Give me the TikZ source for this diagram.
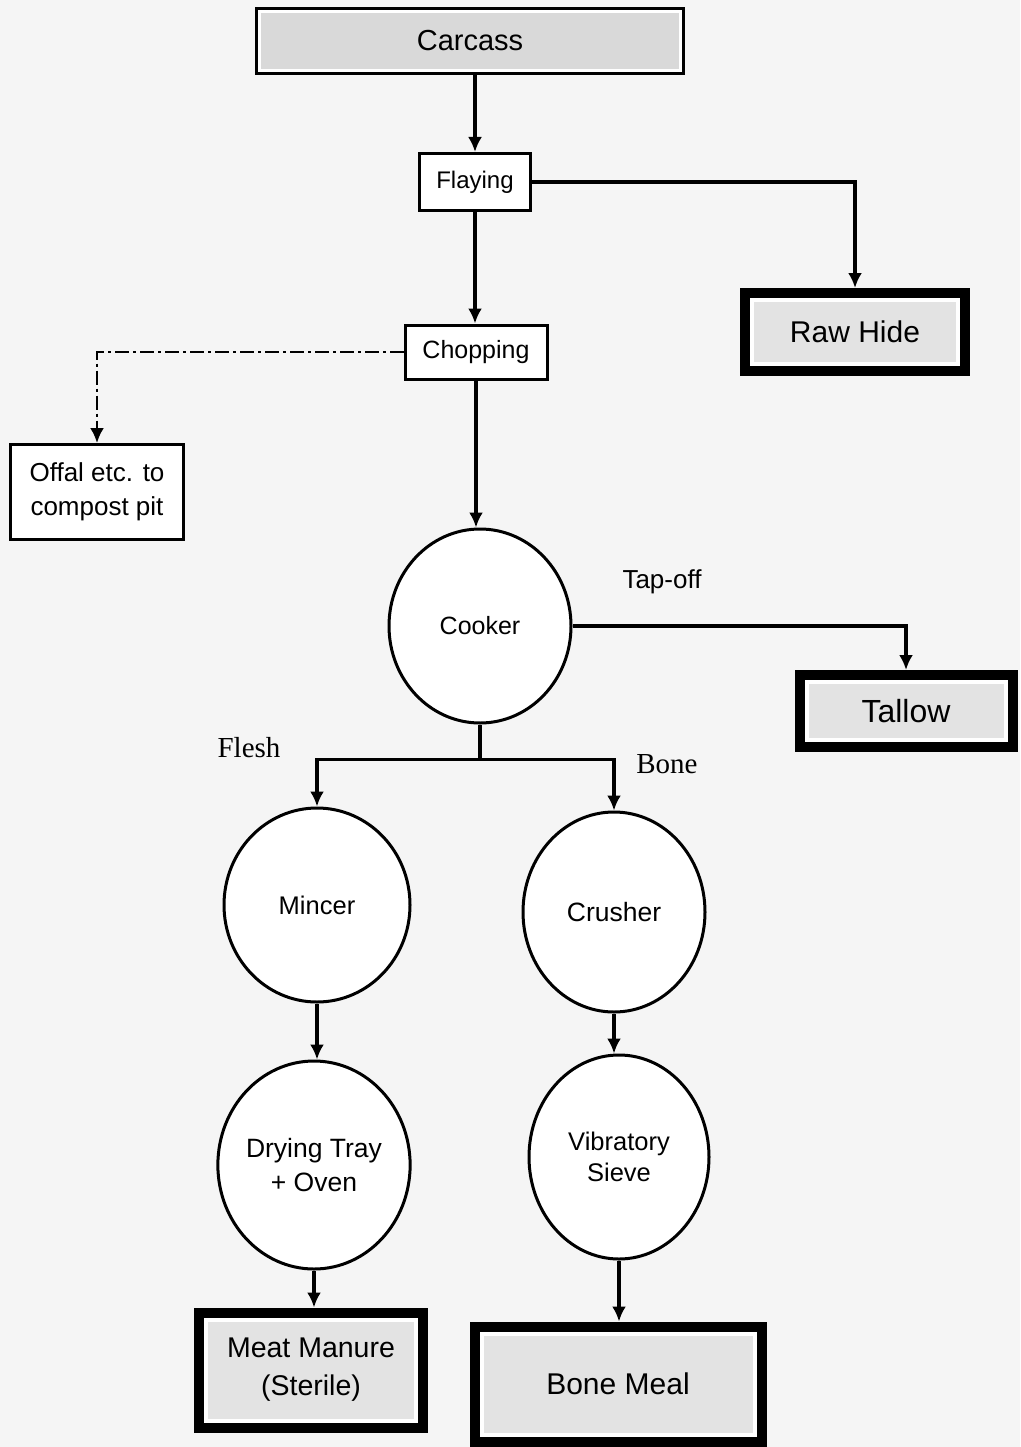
\documentclass[tikz,border=0pt]{standalone}
\usepackage{fontspec}
\setmainfont{Liberation Sans}
\newfontfamily\labelserif{Liberation Serif}
\usetikzlibrary{arrows.meta,shapes.geometric,positioning,calc}
\tikzset{
    smallbox/.style={draw,line width=3pt,fill=white,inner sep=0pt,align=center},
    heavybox/.style={draw=white,line width=4pt,fill=gray!22,inner sep=0pt,outer sep=12pt,align=center,
        preaction={draw=black,line width=24pt}},
    headbox/.style={draw=white,line width=3pt,fill=gray!30,inner sep=0pt,outer sep=4.5pt,align=center,
        preaction={draw=black,line width=9pt}},
    vessel/.style={draw,ellipse,line width=3pt,fill=white,inner sep=0pt,align=center},
    flow/.style={-{Latex[length=15pt,width=14pt]},line width=3.5pt},
    waste/.style={flow,line width=2.5pt,dash pattern=on 14pt off 4pt on 3pt off 4pt},
    branch/.style={font=\labelserif\fontsize{29pt}{33pt}\selectfont},
}

\begin{document}
\begin{tikzpicture}[x=1pt,y=-1pt, every node/.style={font=\fontsize{25pt}{30pt}\selectfont}]
% Page
                \fill[gray!8] (0,0) rectangle (1020,1447);
                \useasboundingbox (0,0) rectangle (1020,1447);
% --- Carcass, flaying, chopping ---
                \node[headbox, minimum width=421pt, minimum height=59pt, font=\fontsize{29pt}{33pt}\selectfont] (carcass) at (470,41) {Carcass};
                \node[smallbox, minimum width=111pt, minimum height=57pt, font=\fontsize{24pt}{28pt}\selectfont] (flaying) at (475,182) {Flaying};
                \node[smallbox, minimum width=142pt, minimum height=54pt] (chopping) at (476,352) {Chopping};
                \node[heavybox, minimum width=206pt, minimum height=64pt, font=\fontsize{30pt}{34pt}\selectfont] (rawhide) at (855,332) {Raw Hide};
                \node[smallbox, minimum width=173pt, minimum height=95pt, font=\fontsize{26pt}{34pt}\selectfont] (offal) at (97,492) {Offal etc. to\\compost pit};
% --- Cooker ---
                \node[vessel, minimum width=182pt, minimum height=194pt] (cooker) at (480,626) {Cooker};
                \node[heavybox, minimum width=199pt, minimum height=58pt, font=\fontsize{32pt}{36pt}\selectfont] (tallow) at (906,711) {Tallow};
                \node[font=\fontsize{26pt}{30pt}\selectfont] (tapoff) at (662,582) {Tap-off};
                \node[branch] (flesh) at (249,748) {Flesh};
                \node[branch] (bone) at (667,764) {Bone};
% --- Flesh side ---
                \node[vessel, minimum width=186pt, minimum height=194pt, font=\fontsize{25.5pt}{30pt}\selectfont] (mincer) at (317,905) {Mincer};
                \node[vessel, minimum width=186pt, minimum height=208pt, font=\fontsize{26.5pt}{34pt}\selectfont] (drying) at (314,1165) {Drying Tray\\+ Oven};
                \node[heavybox, minimum width=210pt, minimum height=101pt, font=\fontsize{28.5pt}{38pt}\selectfont] (manure) at (311,1370) {Meat Manure\\(Sterile)};
% --- Bone side ---
                \node[vessel, minimum width=182pt, minimum height=200pt, font=\fontsize{26.5pt}{30pt}\selectfont] (crusher) at (614,912) {Crusher};
                \node[vessel, minimum width=180pt, minimum height=204pt, font=\fontsize{25.5pt}{31pt}\selectfont] (sieve) at (619,1157) {Vibratory\\Sieve};
                \node[heavybox, minimum width=273pt, minimum height=101pt, font=\fontsize{30pt}{34pt}\selectfont] (bonemeal) at (618,1384) {Bone Meal};
% --- Flow lines ---
                \draw[flow] (carcass.south -| flaying.north) -- (flaying.north);
                \draw[flow] (flaying.east) -| (rawhide.north);
                \draw[flow] (flaying.south) -- (flaying.south |- chopping.north);
                \draw[waste] (chopping.west) -| (offal.north);
                \draw[flow] (chopping.south) -- (chopping.south |- cooker.north);
                \draw[flow] (cooker.east) -| (tallow.north);
                \coordinate (split) at ($(cooker.south)+(0,35)$);
                \draw[line width=3.5pt] (cooker.south) -- (split);
                \draw[flow] (split) -| (mincer.north);
                \draw[flow] (split) -| (crusher.north);
                \draw[flow] (mincer.south) -- (mincer.south |- drying.north);
                \draw[flow] (crusher.south) -- (crusher.south |- sieve.north);
                \draw[flow] (drying.south) -- (drying.south |- manure.north);
                \draw[flow] (sieve.south) -- (sieve.south |- bonemeal.north);
            \end{tikzpicture}
\end{document}
